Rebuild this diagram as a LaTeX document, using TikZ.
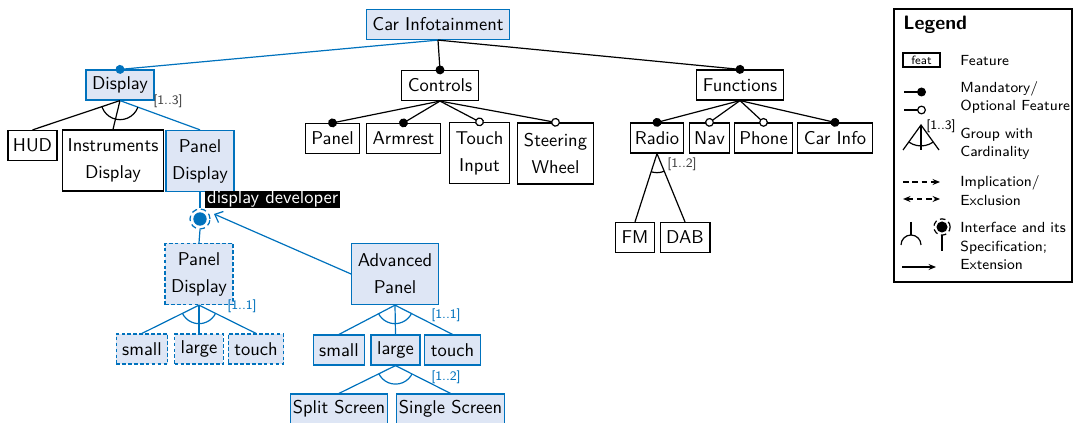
\documentclass[tikz,border=0pt]{standalone}
\usepackage{fontspec}
\usetikzlibrary{arrows.meta}

\definecolor{ibl}{RGB}{0,114,189}
\definecolor{ifill}{RGB}{222,230,245}

\newcommand\featfont{\sffamily\fontsize{10}{14.6}\selectfont}
\newcommand\legfont{\sffamily\fontsize{7.9}{9.9}\selectfont}
\newcommand\cardfont{\sffamily\fontsize{7}{8}\selectfont}

\tikzset{
  feat/.style={draw, line width=0.65pt, inner sep=3.3pt, minimum height=16.2pt,
    align=center, font=\featfont},
  two/.style={minimum height=33pt},
  tight/.style={inner xsep=2.6pt},
  sel/.style={draw=ibl, fill=ifill},
  dsel/.style={sel, dash pattern=on 2pt off 1.2pt},
  conn/.style={line width=0.65pt},
  bconn/.style={conn, draw=ibl},
  mand/.style={-{Circle[length=4.8pt]}, shorten >=-2.4pt},
  opt/.style={-{Circle[length=4.8pt, fill=white]}, shorten >=-2.4pt},
  card/.style={font=\cardfont, inner sep=0.5pt, text=black!75},
  bcard/.style={card, text=ibl},
  legtext/.style={font=\legfont, align=left, anchor=west, inner sep=0pt},
}

\begin{document}
\begin{tikzpicture}[x=0.54pt, y=-0.54pt]
\useasboundingbox (0,0) rectangle (1076,423);

% ---------- features ----------
\node[feat, sel] (car) at (438,24.5) {Car Infotainment};
\node[feat, sel] (display) at (120,85) {Display};
\node[feat] (controls) at (440,85.5) {Controls};
\node[feat] (functions) at (740,85) {Functions};

\node[feat, tight] (hud) at (32.5,145.5) {HUD};
\node[feat, two, tight] (instr) at (113,160.5) {Instruments\\Display};
\node[feat, two, sel] (pd1) at (200,161) {Panel\\Display};

\node[feat] (panel) at (332.5,138.5) {Panel};
\node[feat] (armrest) at (403.5,138.5) {Armrest};
\node[feat, two] (touchin) at (479.5,153) {Touch\\Input};
\node[feat, two] (steer) at (555.5,153.5) {Steering\\Wheel};

\node[feat, tight] (radio) at (657,138) {Radio};
\node[feat, tight] (nav) at (709.5,138) {Nav};
\node[feat, tight] (phone) at (763.5,138) {Phone};
\node[feat] (carinfo) at (835,138) {Car Info};

\node[feat] (fm) at (635,237.5) {FM};
\node[feat] (dab) at (685,237.5) {DAB};

% interface specification
\node[circle, draw=ibl, line width=0.65pt, densely dashed, minimum size=10.8pt,
  inner sep=0pt] (spec) at (200,219) {};
\node[circle, fill=ibl, minimum size=7.2pt, inner sep=0pt] (specdot) at (spec.center) {};
\node[fill=black, text=white, font=\featfont, inner sep=0pt, inner xsep=1pt,
  anchor=north west] (dev) at (205,190.5) {display developer};

\node[feat, two, dsel] (pd2) at (199,274) {Panel\\Display};
\node[feat, two, sel] (adv) at (395,274) {Advanced\\Panel};

\node[feat, dsel] (s1) at (142,349) {small};
\node[feat, dsel] (l1) at (199,349) {large};
\node[feat, dsel] (t1) at (256,349) {touch};

\node[feat, sel] (s2) at (339,350) {small};
\node[feat, sel] (l2) at (395.5,350) {large};
\node[feat, sel] (t2) at (452.5,350) {touch};

\node[feat, sel, inner xsep=1.3pt] (split) at (339,409) {Split Screen};
\node[feat, sel, inner xsep=1.3pt] (single) at (450.5,409) {Single Screen};

% ---------- cardinalities ----------
\node[card] (c1) at (168,101) {[1..3]};
\node[card] (c2) at (682,164) {[1..2]};
\node[bcard] (c3) at (242,306) {[1..1]};
\node[bcard] (c4) at (446,315) {[1..1]};
\node[bcard] (c5) at (446,377) {[1..2]};

% ---------- connectors ----------
\draw[bconn, mand] (car.south) -- (display.north);
\draw[conn, mand] (car.south) -- (controls.north);
\draw[conn, mand] (car.south) -- (functions.north);

\draw[conn] (display.south) -- (hud.north);
\draw[conn] (display.south) -- (instr.north);
\draw[bconn] (display.south) -- (pd1.north);
\begin{scope}
  \clip (display.south) -- (hud.north) -- (pd1.north) -- cycle;
  \draw[conn] (display.south) circle[radius=10.3pt];
\end{scope}

\draw[conn, mand] (controls.south) -- (panel.north);
\draw[conn, mand] (controls.south) -- (armrest.north);
\draw[conn, opt] (controls.south) -- (touchin.north);
\draw[conn, opt] (controls.south) -- (steer.north);

\draw[conn, mand] (functions.south) -- (radio.north);
\draw[conn, opt] (functions.south) -- (nav.north);
\draw[conn, opt] (functions.south) -- (phone.north);
\draw[conn, mand] (functions.south) -- (carinfo.north);

\draw[conn] (radio.south) -- (fm.north);
\draw[conn] (radio.south) -- (dab.north);
\begin{scope}
  \clip (radio.south) -- (fm.north) -- (dab.north) -- cycle;
  \draw[conn] (radio.south) circle[radius=10.3pt];
\end{scope}

\draw[bconn] (pd1.south) -- (spec.north);
\draw[bconn] (spec.south) -- (pd2.north);
\coordinate (exttip) at (214,214);
\draw[bconn, -{Straight Barb[length=3.6pt, width=6.5pt]}] (adv.west) -- (exttip);

\draw[bconn] (pd2.south) -- (s1.north);
\draw[bconn] (pd2.south) -- (l1.north);
\draw[bconn] (pd2.south) -- (t1.north);
\begin{scope}
  \clip (pd2.south) -- (s1.north) -- (t1.north) -- cycle;
  \draw[bconn] (pd2.south) circle[radius=10pt];
\end{scope}

\draw[bconn] (adv.south) -- (s2.north);
\draw[bconn] (adv.south) -- (l2.north);
\draw[bconn] (adv.south) -- (t2.north);
\begin{scope}
  \clip (adv.south) -- (s2.north) -- (t2.north) -- cycle;
  \draw[bconn] (adv.south) circle[radius=10pt];
\end{scope}

\draw[bconn] (l2.south) -- (split.north);
\draw[bconn] (l2.south) -- (single.north);
\begin{scope}
  \clip (l2.south) -- (split.north) -- (single.north) -- cycle;
  \draw[bconn] (l2.south) circle[radius=10pt];
\end{scope}

% ---------- legend ----------
\draw[line width=0.65pt] (894,9) rectangle (1072,282);
\node[font=\sffamily\fontsize{10.5}{12}\selectfont\bfseries, anchor=west, inner sep=0pt]
  (legtitle) at (903,25) {Legend};

\node[draw, line width=0.6pt, minimum width=20pt, minimum height=7.6pt, inner sep=0.5pt,
  font=\sffamily\fontsize{6.5}{7}\selectfont] (legfeat) at (921.5,60) {feat};
\node[legtext] (tfeat) at (960,61) {Feature};

\draw[conn, mand] (904,92) -- (921.5,92);
\draw[conn, opt] (904,110) -- (921.5,110);
\node[legtext] (tmand) at (960,97.5) {Mandatory/\\Optional Feature};

\coordinate (gapex) at (921,125);
\draw[conn] (903,150) -- (gapex) -- (939,150);
\draw[conn] (gapex) -- (921,150);
\begin{scope}
  \clip (gapex) -- (903,150) -- (939,150) -- cycle;
  \draw[conn] (gapex) circle[radius=11.3pt];
\end{scope}
\node[font=\cardfont, inner sep=0pt] (legcard) at (941,126) {[1..3]};
\node[legtext] (tgroup) at (960,144) {Group with\\Cardinality};

\draw[conn, densely dashed, -{Stealth[length=4pt, width=3.2pt]}] (903,182) -- (940,182);
\draw[conn, densely dashed, {Stealth[length=4pt, width=3.2pt]}-{Stealth[length=4pt, width=3.2pt]}]
  (903,199) -- (940,199);
\node[legtext] (timpl) at (960,190.5) {Implication/\\Exclusion};

\draw[conn] (911,222) -- (911,235);
\draw[conn] (901,245) arc[start angle=180, end angle=0, radius=5.4pt];
\draw[conn, densely dashed] (942,227) circle[radius=4.4pt];
\fill (942,227) circle[radius=3pt];
\draw[conn] (942,235) -- (942,251);
\draw[conn, -{Stealth[length=4pt, width=3.2pt]}] (902,267) -- (936,267);
\node[legtext] (tiface) at (960,246) {Interface and its\\Specification;\\Extension};
\end{tikzpicture}
\end{document}
